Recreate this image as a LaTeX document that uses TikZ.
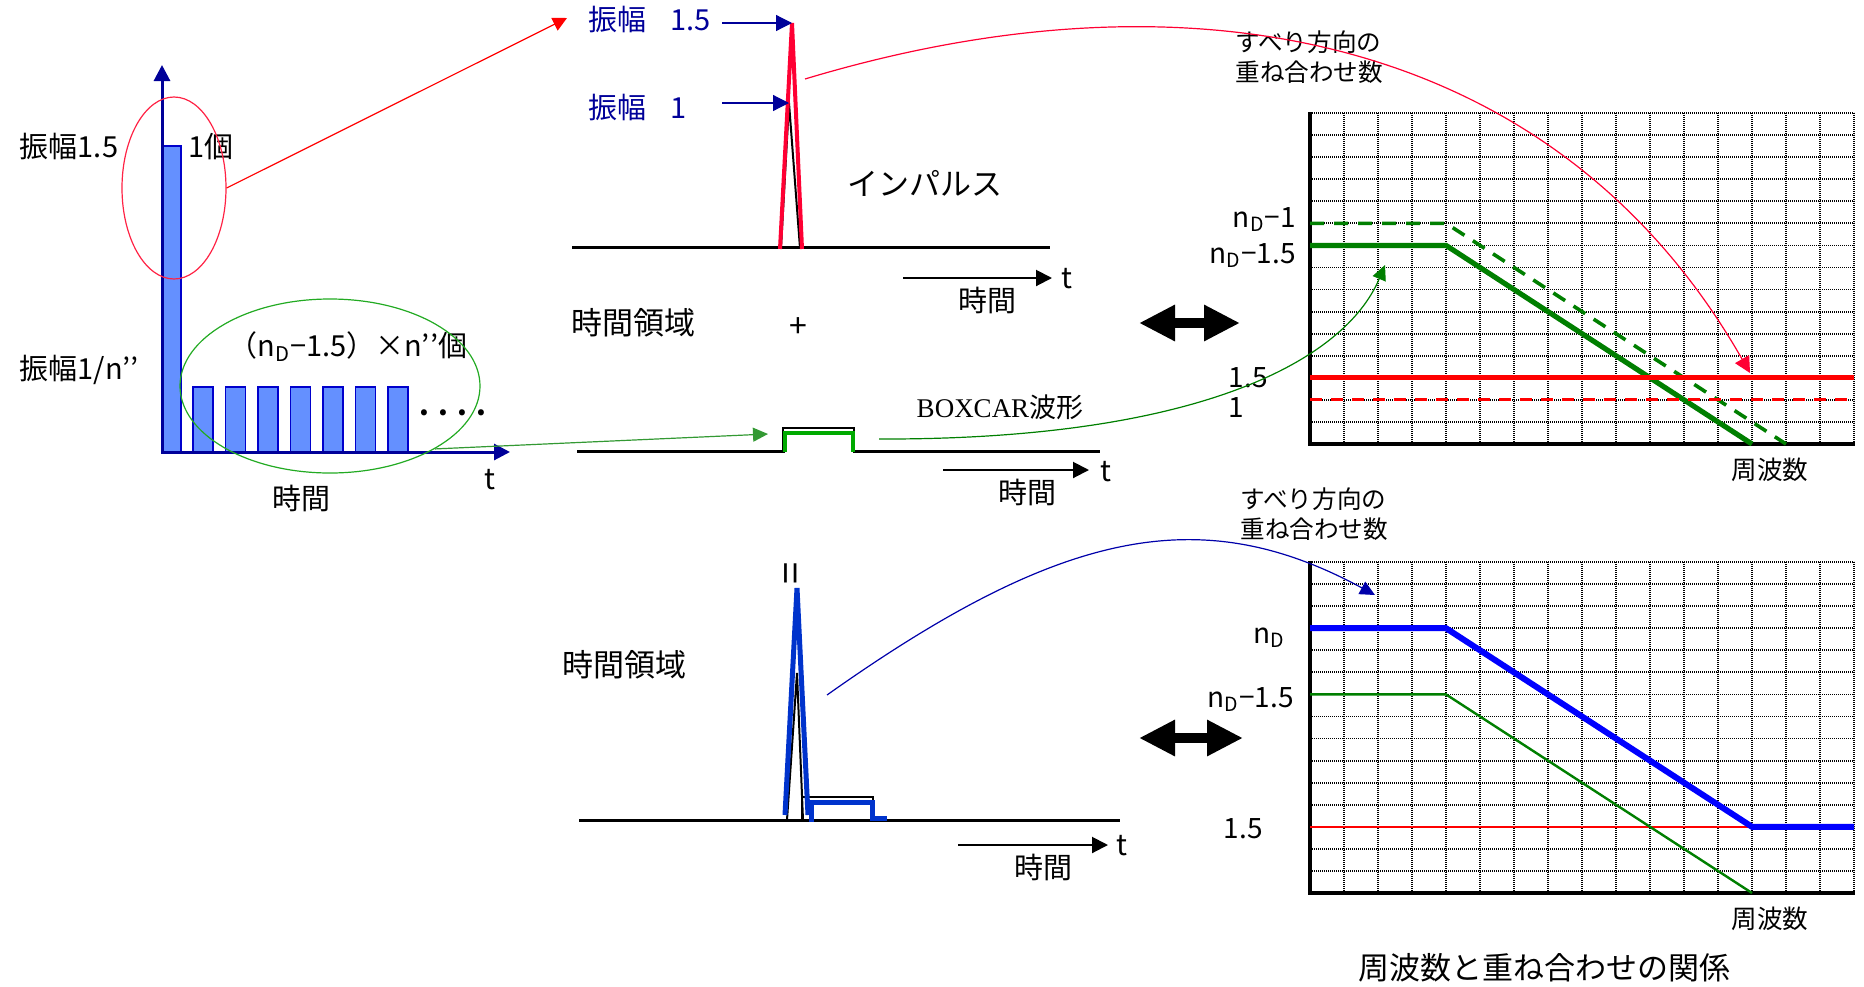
\documentclass[tikz,border=0pt]{standalone}
\usepackage{fontspec}
\setmainfont{Noto Sans CJK JP}
\newfontfamily\lserif{Liberation Serif}
\usetikzlibrary{arrows.meta,shapes.geometric}
\definecolor{navy}{HTML}{000099}
\definecolor{barfill}{HTML}{6490FF}
\definecolor{barline}{HTML}{0000CC}
\definecolor{crim}{HTML}{FF0033}
\definecolor{ellred}{HTML}{FF2244}
\definecolor{cgreen}{HTML}{007F00}
\definecolor{bgreen}{HTML}{00AA00}
\definecolor{egreen}{HTML}{22AA22}
\definecolor{agreen}{HTML}{339933}
\definecolor{cblue}{HTML}{0000FF}
\definecolor{sblue}{HTML}{0033CC}
\definecolor{dblue}{HTML}{0000AA}
\begin{document}
\begin{tikzpicture}[x=0.5pt,y=-0.5pt,
  lbl/.style={inner sep=0pt, font=\fontsize{14.5pt}{17pt}\selectfont},
  big/.style={inner sep=0pt, font=\fontsize{15.5pt}{18pt}\selectfont},
  small/.style={inner sep=0pt, font=\fontsize{12.3pt}{15pt}\selectfont, align=left},
  axl/.style={inner sep=0pt, font=\fontsize{14pt}{17pt}\selectfont},
  gridln/.style={line width=0.9pt, dash pattern=on 0.55pt off 0.45pt},
  tipA/.style={-{Triangle[length=8pt,width=8pt]}},
  tipS/.style={-{Triangle[length=7.5pt,width=7pt]}},
  dbl/.style={line width=5pt, {Triangle[length=18pt,width=17pt]}-{Triangle[length=18pt,width=17pt]}},
  bar/.style={fill=barfill, draw=barline, line width=0.6pt}
]
\useasboundingbox (0,0) rectangle (1864,986);

% ---------------- left panel ----------------
\filldraw[bar] (163,146) rectangle (181,452);
\foreach \k in {0,...,6} \filldraw[bar] ({193+32.5*\k},387) rectangle ({213+32.5*\k},452);
\draw[navy, line width=1.5pt, tipA] (162,453) -- (162,65);
\draw[navy, line width=1.5pt, tipA] (161,452) -- (510,452);
\node[lbl] (amp15) at (69,147) {振幅1.5};
\node[lbl] (one) at (211,147) {1個};
\node[lbl] (ampn) at (79,370) {振幅1/n’’};
\node[lbl] (count) at (348,347) {（n\textsubscript{D}−1.5）×n’’個};
\node[inner sep=0pt, anchor=base, font=\fontsize{14pt}{17pt}\selectfont\bfseries] (dots) at (453,415) {.\hspace{4.5pt}.\hspace{4.5pt}.\hspace{4.5pt}.};
\node[lbl] (t1) at (490,480) {t};
\node[lbl] (time1) at (301,498) {時間};
\node[draw=ellred, line width=0.6pt, ellipse, minimum width=52pt, minimum height=91pt, inner sep=0pt] (redell) at (174,188) {};
\node[draw=egreen, line width=0.6pt, ellipse, minimum width=150pt, minimum height=87pt, inner sep=0pt] (greenell) at (330,386) {};

% ---------------- impulse panel ----------------
\draw[line width=1.5pt] (572,247) -- (1050,247);
\draw[line width=1pt] (781,248) -- (789,103) -- (800,248);
\draw[crim, line width=2pt] (780,249) -- (792,23) -- (802,249);
\node[navy, inner sep=0pt, anchor=west, font=\fontsize{14.5pt}{18pt}\selectfont] (a15) at (588,20) {振幅\hspace{12pt}1.5};
\node[navy, inner sep=0pt, anchor=west, font=\fontsize{14.5pt}{18pt}\selectfont] (a1) at (588,108) {振幅\hspace{12pt}1};
\coordinate (a15tip) at (792,23);
\coordinate (a1tip) at (789,103);
\draw[navy, line width=0.6pt, tipA] (722,23) -- (a15tip);
\draw[navy, line width=0.6pt, tipA] (722,103) -- (a1tip);
\node[big] (imp) at (925,183) {インパルス};
\draw[line width=1pt, tipA] (903,278) -- (1052,278);
\node[lbl] (t2) at (1067,279) {t};
\node[lbl] (time2) at (987,300) {時間};

% ---------------- boxcar panel ----------------
\node[big] (tdom1) at (633,323) {時間領域};
\node[inner sep=0pt, font=\fontsize{16pt}{18pt}\selectfont] (plus) at (798,328) {+};
\draw[line width=1.5pt] (577,451) -- (785,451);
\draw[line width=1.5pt] (853,451) -- (1100,451);
\draw[line width=1pt] (783,451) -- (783,428) -- (854,428) -- (854,451);
\draw[bgreen, line width=2pt] (785,452) -- (785,433) -- (853,433) -- (853,452);
\node[inner sep=0pt, font=\fontsize{13.5pt}{16pt}\selectfont] (boxcar) at (1000,407) {{\lserif BOXCAR}波形};
\draw[line width=1pt, tipA] (943,470) -- (1089,470);
\node[lbl] (t3) at (1106,472) {t};
\node[lbl] (time3) at (1027,492) {時間};

% ---------------- sum panel ----------------
\node[inner sep=0pt, rotate=90, font=\fontsize{20pt}{20pt}\selectfont] (eqs) at (795,573) {=};
\node[big] (tdom2) at (624,665) {時間領域};
\draw[line width=1.5pt] (579,820) -- (1120,820);
\draw[line width=1pt] (787,820) -- (797,673) -- (803,820);
\draw[line width=1pt] (802,820) -- (802,797) -- (873,797) -- (873,820);
\draw[sblue, line width=2.5pt] (785,815) -- (797,588) -- (808,815);
\draw[sblue, line width=2.5pt] (811,822) -- (811,802) -- (872,802) -- (872,818) -- (887,818);
\draw[line width=1pt, tipA] (958,845) -- (1108,845);
\node[lbl] (t4) at (1122,846) {t};
\node[lbl] (time4) at (1043,867) {時間};

% ---------------- double arrows ----------------
\coordinate (d1l) at (1139,323); \coordinate (d1r) at (1240,323);
\coordinate (d2l) at (1139,738); \coordinate (d2r) at (1243,738);
\draw[dbl] (d1l) -- (d1r);
\draw[dbl] (d2l) -- (d2r);

% ---------------- chart 1 ----------------
\foreach \k in {1,...,16} \draw[gridln] ({1310+34*\k},113) -- ({1310+34*\k},444);
\foreach \j in {0,...,14} \draw[gridln] (1310,{113+22.07*\j}) -- (1854,{113+22.07*\j});
\draw[line width=1.6pt] (1310,112) -- (1310,444) -- (1855,444);
\draw[cgreen, line width=1.8pt, dash pattern=on 7pt off 5pt] (1310,223.3) -- (1446,223.3) -- (1786,444);
\draw[cgreen, line width=2.6pt] (1310,245.4) -- (1446,245.4) -- (1752,444);
\draw[red, line width=2.6pt] (1310,377.8) -- (1854,377.8);
\draw[red, line width=1.6pt, dash pattern=on 6pt off 4.5pt] (1310,399.5) -- (1854,399.5);
\node[small, anchor=west] (lab1) at (1235,57) {すべり方向の\\重ね合わせ数};
\node[axl, anchor=base east] (nd1) at (1296,227) {n\textsubscript{D}−1};
\node[axl, anchor=base east] (nd15) at (1296,263) {n\textsubscript{D}−1.5};
\node[axl, anchor=base east] (v15) at (1268,387) {1.5};
\node[axl, anchor=base east] (v1) at (1244,417) {1};
\node[inner sep=0pt, font=\fontsize{12.8pt}{15pt}\selectfont] (freq1) at (1770,470) {周波数};

% ---------------- chart 2 ----------------
\foreach \k in {1,...,16} \draw[gridln] ({1310+34*\k},562) -- ({1310+34*\k},893);
\foreach \j in {0,...,14} \draw[gridln] (1310,{562+22.07*\j}) -- (1854,{562+22.07*\j});
\draw[line width=1.6pt] (1310,561) -- (1310,893) -- (1855,893);
\draw[red, line width=1.2pt] (1310,826.8) -- (1752,826.8);
\draw[cgreen, line width=1.2pt] (1310,694.4) -- (1446,694.4) -- (1752,893);
\draw[cblue, line width=3pt] (1310,628.2) -- (1446,628.2) -- (1752,826.8) -- (1854,826.8);
\node[small, anchor=west] (lab2) at (1240,514) {すべり方向の\\重ね合わせ数};
\node[axl, anchor=base east] (nd) at (1285,643) {n\textsubscript{D}};
\node[axl, anchor=base east] (nd15b) at (1294,707) {n\textsubscript{D}−1.5};
\node[axl, anchor=base east] (v15b) at (1263,838) {1.5};
\node[inner sep=0pt, font=\fontsize{12.8pt}{15pt}\selectfont] (freq2) at (1770,919) {周波数};
\node[inner sep=0pt, font=\fontsize{15.5pt}{18pt}\selectfont] (title) at (1544,968) {周波数と重ね合わせの関係};

% ---------------- connectors ----------------
\coordinate (r1tip) at (567,18);
\draw[red, line width=0.6pt, -{Triangle[length=7pt,width=7pt]}] (redell.east) -- (r1tip);
\coordinate (r2s) at (805,79);
\coordinate (r2t) at (1750,373);
\draw[crim, line width=0.6pt, -{Triangle[length=8pt,width=8pt]}] (r2s) .. controls (1200,-40) and (1560,40) .. (r2t);
\coordinate (g1tip) at (768,434);
\draw[agreen, line width=0.6pt, tipS] (greenell.-31) -- (g1tip);
\coordinate (g2s) at (879,439);
\coordinate (g2t) at (1385,265);
\draw[cgreen, line width=0.6pt, tipS] (g2s) .. controls (1200,440) and (1345,360) .. (g2t);
\coordinate (b1s) at (827,695);
\coordinate (b1t) at (1375,595);
\draw[dblue, line width=0.6pt, tipS] (b1s) .. controls (1060,530) and (1200,500) .. (b1t);
\end{tikzpicture}
\end{document}
